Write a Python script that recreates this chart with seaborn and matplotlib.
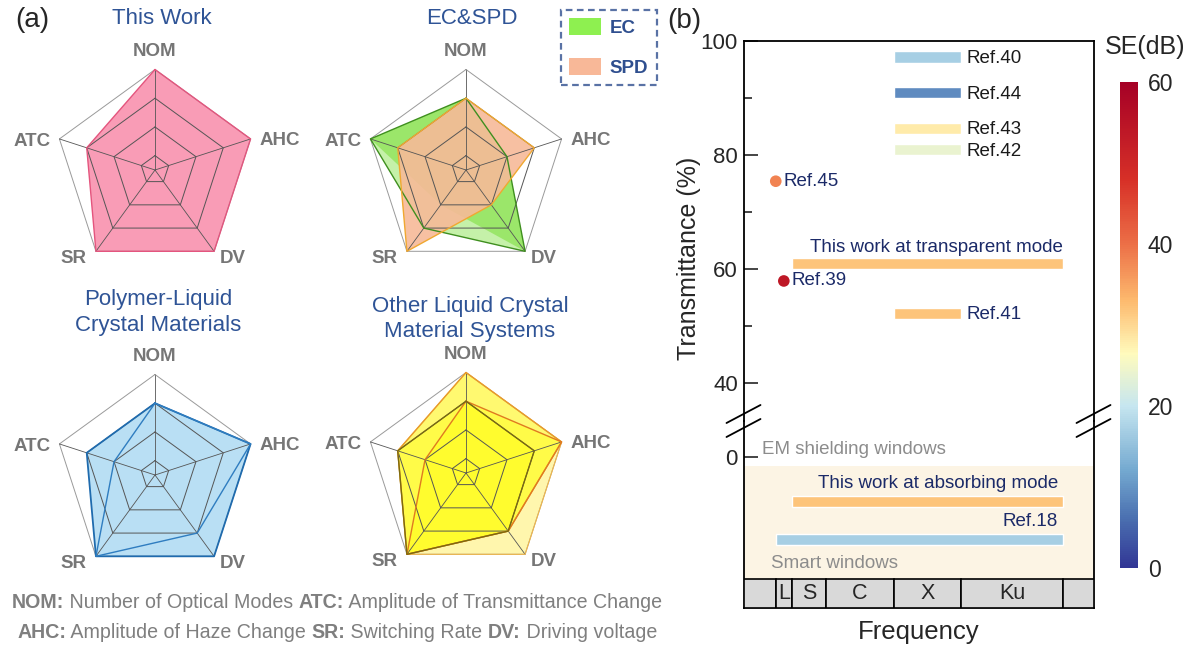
import numpy as np
import matplotlib
matplotlib.use('Agg')
import matplotlib.pyplot as plt
import seaborn as sns
from matplotlib.patches import Patch, Rectangle
from matplotlib.lines import Line2D
import matplotlib.colors as mcolors
from matplotlib.cm import ScalarMappable

sns.set_style('white')
plt.rcParams['font.family'] = ['Liberation Sans', 'DejaVu Sans']

# ---------------- data: radar charts (levels 0..3) ----------------
radar_axes = ['NOM', 'AHC', 'DV', 'SR', 'ATC']
levels = [0, 1, 2, 3]
this_work = [3, 3, 3, 3, 2]
ec_a = [2, 1, 3, 2, 3]
ec_b = [2, 1, 3, 1, 3]
spd = [2, 2, 1, 3, 2]
plc_a = [2, 3, 3, 3, 2]
plc_b = [2, 3, 2, 3, 1]
olc_1 = [3, 3, 3, 3, 2]
olc_2 = [3, 3, 2, 3, 2]
olc_3 = [2, 3, 2, 3, 1]
olc_4 = [2, 2, 2, 3, 2]

# ---------------- data: panel b ----------------
band_names = ['', 'L', 'S', 'C', 'X', 'Ku', '']
band_edges = [0, 1.0, 1.5, 2.55, 4.65, 6.75, 9.9, 10.85]
bar_labels = ['Ref.40', 'Ref.44', 'Ref.43', 'Ref.42', 'This work at transparent mode', 'Ref.41']
bar_T = [97.2, 90.9, 84.7, 80.9, 60.9, 52.2]
bar_start = [4.65, 4.65, 4.65, 4.65, 1.5, 4.65]
bar_end = [6.75, 6.75, 6.75, 6.75, 9.9, 6.75]
bar_se = [17, 9, 28, 24, 32, 32]
pt_labels = ['Ref.45', 'Ref.39']
pt_T = [75.4, 57.9]
pt_f = [1.0, 1.25]
pt_se = [38, 54]
sw_labels = ['This work at absorbing mode', 'Ref.18']
sw_row = [-7.9, -14.6]
sw_start = [1.5, 1.0]
sw_end = [9.9, 9.9]
sw_se = [32, 17]
t_ticks = [40, 60, 80, 100]
se_ticks = [0, 20, 40, 60]

W, H = 1191, 655
fig = plt.figure(figsize=(W / 100, H / 100), dpi=100)


def fr(x0, y0, x1, y1):
    return [x0 / W, 1 - y1 / H, (x1 - x0) / W, (y1 - y0) / H]


def fx(x):
    return x / W


def fy(y):
    return 1 - y / H


# ---------------- radar helper ----------------
ANG = np.deg2rad([90, 18, -54, -126, 162])
R_PX = 100.5
S_PX = 135
GRAY = '#767676'
NAVY_T = '#2F5496'


def to_r(v):
    return (np.asarray(v, dtype=float) + 0.5) / 3.5


def closed(r):
    r = np.broadcast_to(r, ANG.shape)
    x = r * np.cos(ANG)
    y = r * np.sin(ANG)
    return np.append(x, x[0]), np.append(y, y[0])


def radar(cx, cy, polys):
    ax = fig.add_axes(fr(cx - S_PX, cy - S_PX, cx + S_PX, cy + S_PX))
    lim = S_PX / R_PX
    ax.set_xlim(-lim, lim)
    ax.set_ylim(-lim, lim)
    ax.axis('off')
    for vals, fc, fa, ec, lw in polys:
        x, y = closed(to_r(vals))
        if fa > 0:
            ax.fill(x, y, color=fc, alpha=fa, lw=0, zorder=2)
    for lv in levels:
        x, y = closed(to_r(lv))
        ax.plot(x, y, color='#555555' if lv < 3 else '#9a9a9a', lw=0.7, zorder=3)
    for a in ANG:
        ax.plot([0, np.cos(a)], [0, np.sin(a)], color='#555555', lw=0.6, zorder=3)
    for vals, fc, fa, ec, lw in polys:
        if lw > 0:
            x, y = closed(to_r(vals))
            ax.plot(x, y, color=ec, lw=lw, zorder=4)
    k = 1 / R_PX
    c, s = np.cos(ANG), np.sin(ANG)
    kw = dict(fontsize=13.5, fontweight='bold', color=GRAY, va='center')
    ax.text(0, 1 + 18 * k, radar_axes[0], ha='center', **kw)
    ax.text(c[1] + 9 * k, s[1] - 2 * k, radar_axes[1], ha='left', **kw)
    ax.text(c[2] + 6 * k, s[2] - 7 * k, radar_axes[2], ha='left', **kw)
    ax.text(c[3] - 9 * k, s[3] - 7 * k, radar_axes[3], ha='right', **kw)
    ax.text(c[4] - 9 * k, s[4] - 3 * k, radar_axes[4], ha='right', **kw)
    return ax


radar(155, 170, [(this_work, '#F99CB6', 1.0, '#E4557E', 1.0)])
radar(466, 170, [(ec_a, '#7FE040', 0.45, '#3F8F1F', 1.0),
                 (ec_b, '#7FE040', 0.6, '#3F8F1F', 0),
                 (spd, '#F7BA98', 0.9, '#F0A830', 1.0)])
radar(155, 475, [(plc_a, '#B9DFF4', 1.0, '#1F6BAE', 1.3),
                 (plc_b, '#B9DFF4', 0.0, '#2F7DC0', 1.0)])
radar(466, 473, [(olc_1, '#FFF06A', 0.55, '#F2B84A', 0.8),
                 (olc_2, '#FFFF00', 0.35, '#E89A2A', 1.0),
                 (olc_3, '#FFFF00', 0.35, '#E07A20', 1.0),
                 (olc_4, '#FFFF00', 0.35, '#7A6A10', 1.0)])

tkw = dict(fontsize=16, color=NAVY_T, ha='center', va='center')
fig.text(fx(162), fy(19), 'This Work', **tkw)
fig.text(fx(472), fy(19), 'EC&SPD', **tkw)
fig.text(fx(158), fy(300), 'Polymer-Liquid', **tkw)
fig.text(fx(158), fy(325), 'Crystal Materials', **tkw)
fig.text(fx(470), fy(306), 'Other Liquid Crystal', **tkw)
fig.text(fx(470), fy(331), 'Material Systems', **tkw)
fig.text(fx(32), fy(20), '(a)', fontsize=20, ha='center', va='center')
fig.text(fx(684), fy(21), '(b)', fontsize=20, ha='center', va='center')

leg = fig.legend(handles=[Patch(fc='#8EF050', ec='none', label='EC'),
                          Patch(fc='#F8B898', ec='none', label='SPD')],
                 loc='upper left', bbox_to_anchor=(fx(561), fy(10)),
                 fancybox=False, frameon=True, labelcolor='#2F4F8F',
                 prop={'weight': 'bold', 'size': 13.5}, handlelength=1.7,
                 handleheight=1.0, labelspacing=1.1, borderpad=0.45,
                 handletextpad=0.45, borderaxespad=0)
fr_ = leg.get_frame()
fr_.set_edgecolor('#2F4F8F')
fr_.set_linestyle((0, (3, 2)))
fr_.set_linewidth(1.6)

# footnote with mixed weights
renderer = fig.canvas.get_renderer()
foot = [[('NOM:', 'bold'), (' Number of Optical Modes ', 'normal'), ('ATC:', 'bold'),
         (' Amplitude of Transmittance Change', 'normal')],
        [('AHC:', 'bold'), (' Amplitude of Haze Change ', 'normal'), ('SR:', 'bold'),
         (' Switching Rate ', 'normal'), ('DV:', 'bold'), (' Driving voltage', 'normal')]]
foot_y = [602, 632]
target_w = [648, 640]
for segs, yy, tw in zip(foot, foot_y, target_w):
    texts = [fig.text(0, fy(yy), s, fontsize=12, fontweight=w, va='center', color='#7f7f7f')
             for s, w in segs]
    wsum = sum(t.get_window_extent(renderer).width for t in texts)
    fs = 12 * tw / wsum
    for t in texts:
        t.set_fontsize(fs)
    widths = [t.get_window_extent(renderer).width for t in texts]
    x0 = 337 - sum(widths) / 2
    for t, wd in zip(texts, widths):
        t.set_x(fx(x0))
        x0 += wd

# ---------------- panel b ----------------
cmap = mcolors.LinearSegmentedColormap.from_list('se', [
    (0.0, '#313695'), (0.10, '#4a6fb0'), (0.20, '#74a9d0'), (0.333, '#c6e6f0'),
    (0.44, '#fffbbd'), (0.55, '#fdba6e'), (0.667, '#ec6f47'), (0.80, '#d73027'),
    (1.0, '#a50026')])
norm = mcolors.Normalize(0, 60)
NAVY = '#1B2A68'

axT = fig.add_axes(fr(743.5, 41, 1093.5, 421))
axB = fig.add_axes(fr(743.5, 421, 1093.5, 608.3))
for ax in (axT, axB):
    ax.set_xlim(band_edges[0], band_edges[-1])
    ax.set_xticks([])
    ax.set_facecolor('none')
    for sp in ax.spines.values():
        sp.set_color('black')
        sp.set_linewidth(1.3)
axT.spines['bottom'].set_visible(False)
axB.spines['top'].set_visible(False)
axT.set_ylim(33.33, 100)
axB.set_ylim(-26.6, 6.26)

axT.set_yticks(t_ticks)
axT.set_yticks(np.array(t_ticks[:-1]) + 10, minor=True)
axB.set_yticks([0])
for ax in (axT, axB):
    ax.tick_params(axis='y', which='major', direction='in', length=10, width=1.2,
                   labelsize=16, pad=4, left=True)
    ax.tick_params(axis='y', which='minor', direction='in', length=6, width=1.2, left=True)

for lbl, T, s0, s1, se in zip(bar_labels, bar_T, bar_start, bar_end, bar_se):
    axT.barh(T, s1 - s0, left=s0, height=1.95, color=cmap(norm(se)), zorder=2)
    if lbl.startswith('This'):
        axT.annotate(lbl, (s1, T), xytext=(0, 11.5), textcoords='offset points',
                     ha='right', va='center', fontsize=13.5, color=NAVY)
    else:
        axT.annotate(lbl, (s1, T), xytext=(4, -1), textcoords='offset points',
                     ha='left', va='center', fontsize=13.5,
                     color=NAVY if lbl == 'Ref.41' else '#1a1a1a')

sns.scatterplot(x=pt_f, y=pt_T, hue=pt_se, palette=cmap, hue_norm=norm, s=70,
                legend=False, ax=axT, edgecolor='none', zorder=5, clip_on=False)
for lbl, f, T in zip(pt_labels, pt_f, pt_T):
    axT.annotate(lbl, (f, T), xytext=(5.5, 0), textcoords='offset points',
                 ha='left', va='center', fontsize=13.5, color=NAVY)

axB.axhspan(-21.5, -1.58, color='#FCF4E4', zorder=0, lw=0)
for i, name in enumerate(band_names):
    e0, e1 = band_edges[i], band_edges[i + 1]
    axB.add_patch(Rectangle((e0, -26.6), e1 - e0, 26.6 - 21.5, fc='#D9D9D9',
                            ec='black', lw=1.2, zorder=3))
    if name:
        axB.text((e0 + e1) / 2, -24.05, name, ha='center', va='center',
                 fontsize=15.5, zorder=4)
for lbl, row, s0, s1, se in zip(sw_labels, sw_row, sw_start, sw_end, sw_se):
    axB.barh(row, s1 - s0, left=s0, height=1.95, color=cmap(norm(se)), zorder=2)
    axB.annotate(lbl, (s1, row), xytext=(-3.5, 13), textcoords='offset points',
                 ha='right', va='center', fontsize=13.5, color=NAVY)
axB.text(0.57, 1.3, 'EM shielding windows', color='#8c8c8c', fontsize=13.5, va='center')
axB.text(0.84, -18.7, 'Smart windows', color='#8c8c8c', fontsize=13.5, va='center')

# axis break marks
for xc in (743.5, 1093.5):
    for yc in (414, 428):
        fig.add_artist(Line2D([fx(xc - 17), fx(xc + 17)], [fy(yc + 9), fy(yc - 9)],
                              color='black', lw=1.3))

fig.text(fx(918.5), fy(632), 'Frequency', fontsize=18.5, ha='center', va='center')
fig.text(fx(689), fy(258), 'Transmittance (%)', fontsize=18, rotation=90,
         ha='center', va='center')

cax = fig.add_axes(fr(1119.8, 82, 1138, 568))
cb = fig.colorbar(ScalarMappable(norm=norm, cmap=cmap), cax=cax, ticks=se_ticks)
cb.outline.set_visible(False)
cax.tick_params(length=0, labelsize=16.5, pad=7)
fig.text(fx(1145), fy(47), 'SE(dB)', fontsize=18, ha='center', va='center')

fig.savefig('out.png', dpi=100)
